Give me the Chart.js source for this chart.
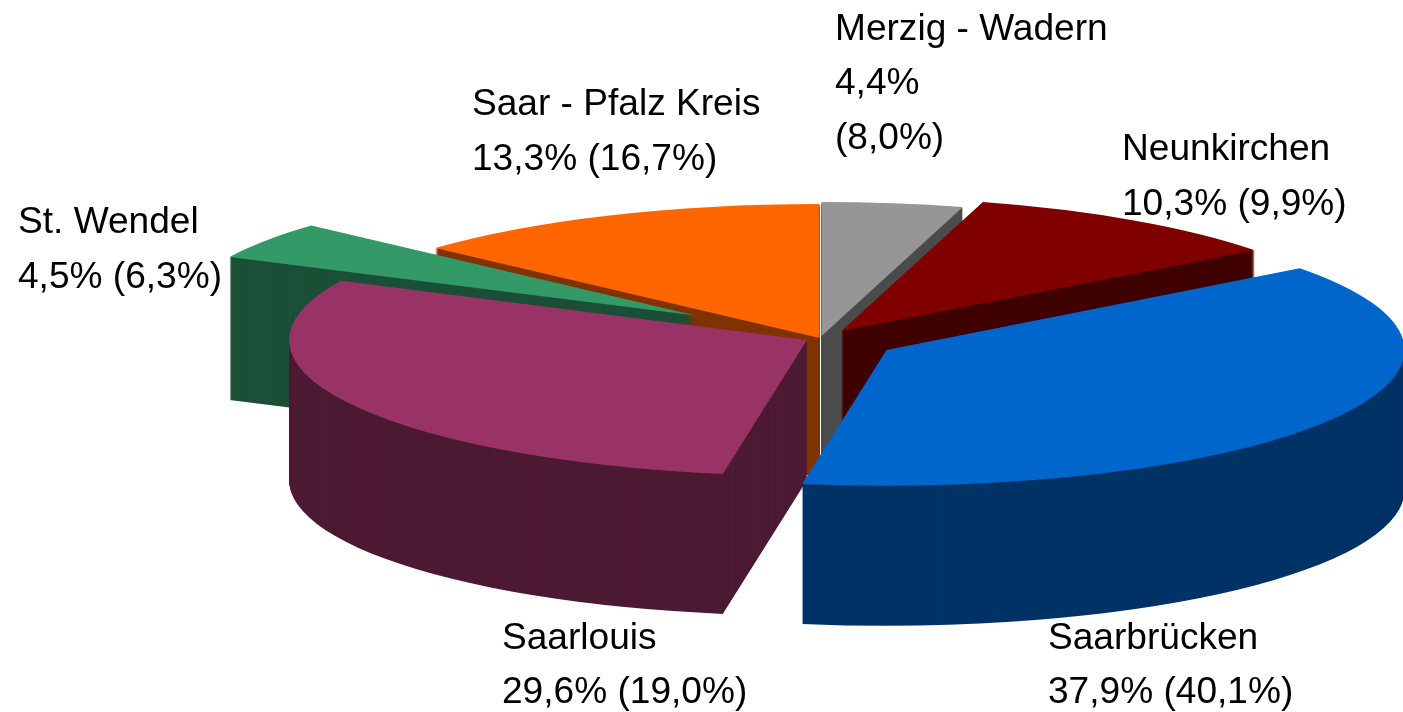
<!DOCTYPE html>
<html>
<head>
<meta charset="utf-8">
<style>
html,body{margin:0;padding:0;background:#fff;overflow:hidden}
canvas{display:block}
</style>
<script src="https://cdn.jsdelivr.net/npm/chart.js@4"></script>
</head>
<body>
<canvas id="c" width="1403" height="712"></canvas>
<script>
// Data, clockwise from 12 o'clock
const categories = ["Merzig - Wadern","Neunkirchen","Saarbrücken","Saarlouis","St. Wendel","Saar - Pfalz Kreis"];
const shares = [4.4,10.3,37.9,29.6,4.5,13.3];
const shareText = ["4,4%","10,3%","37,9%","29,6%","4,5%","13,3%"];
const compareText = ["(8,0%)","(9,9%)","(40,1%)","(19,0%)","(6,3%)","(16,7%)"];
const topColors = ["#969696","#800000","#0066CC","#993366","#339966","#FF6600"];
const sideColors = ["#4B4B4B","#400000","#003366","#4D1A33","#1C4F37","#803300"];

// Pseudo-3D view
const VIEW = {cx:820, cy:337, radius:518};
const sliceSquash = [0.2587,0.2587,0.262,0.262,0.2587,0.2587];
const sliceShift = [[1.5,-1],[21.5,-6],[66.5,13],[-13,3],[-124.5,-21.5],[-0.5,1]];
const sliceDepth = [140,140,140,140,143,140];
const paintOrder = [5,0,4,1,3,2];
const labelFont = '37.1px "Liberation Sans", Arial, sans-serif';
const labelLayout = [
  {x:835, y:[40,94,149], lines:i=>[categories[i],shareText[i],compareText[i]]},
  {x:1122,y:[160,215],   lines:i=>[categories[i],shareText[i]+" "+compareText[i]]},
  {x:1048,y:[649,703],   lines:i=>[categories[i],shareText[i]+" "+compareText[i]]},
  {x:502, y:[649,703],   lines:i=>[categories[i],shareText[i]+" "+compareText[i]]},
  {x:18,  y:[233,288],   lines:i=>[categories[i],shareText[i]+" "+compareText[i]]},
  {x:472, y:[115,170],   lines:i=>[categories[i],shareText[i]+" "+compareText[i]]}
];

const pie3d = {
  id:'pie3d',
  beforeDatasetDraw(chart,args){
    const ctx = chart.ctx;
    const arcs = chart.getDatasetMeta(args.index).data;
    paintOrder.forEach(i=>{
      const arc = arcs[i];
      const place = (drop)=>{
        ctx.translate(VIEW.cx+sliceShift[i][0], VIEW.cy+sliceShift[i][1]+drop);
        ctx.scale(1,sliceSquash[i]);
        ctx.translate(-arc.x,-arc.y);
      };
      // extruded body: same wedge swept down
      ctx.save();
      ctx.fillStyle = sideColors[i];
      for(let d=sliceDepth[i]; d>=1; d--){
        ctx.save();
        place(d);
        ctx.beginPath();
        ctx.moveTo(arc.x,arc.y);
        ctx.arc(arc.x,arc.y,arc.outerRadius,arc.startAngle,arc.endAngle);
        ctx.closePath();
        ctx.restore();
        ctx.fill();
      }
      ctx.restore();
      // top face: the library's own arc element
      ctx.save();
      place(0);
      arc.draw(ctx);
      ctx.restore();
    });
    return false;
  },
  afterDatasetsDraw(chart){
    const ctx = chart.ctx;
    ctx.save();
    ctx.font = labelFont;
    ctx.fillStyle = '#000';
    ctx.textBaseline = 'alphabetic';
    ctx.textAlign = 'left';
    labelLayout.forEach((l,i)=>{
      l.lines(i).forEach((t,k)=>ctx.fillText(t,l.x,l.y[k]));
    });
    ctx.restore();
  }
};

new Chart(document.getElementById('c'),{
  type:'pie',
  data:{labels:categories,datasets:[{data:shares,backgroundColor:topColors,borderWidth:0,clip:false}]},
  options:{
    responsive:false,animation:false,radius:VIEW.radius,rotation:0,
    layout:{padding:0},
    plugins:{legend:{display:false},tooltip:{enabled:false}},
    events:[]
  },
  plugins:[pie3d]
});
</script>
</body>
</html>
